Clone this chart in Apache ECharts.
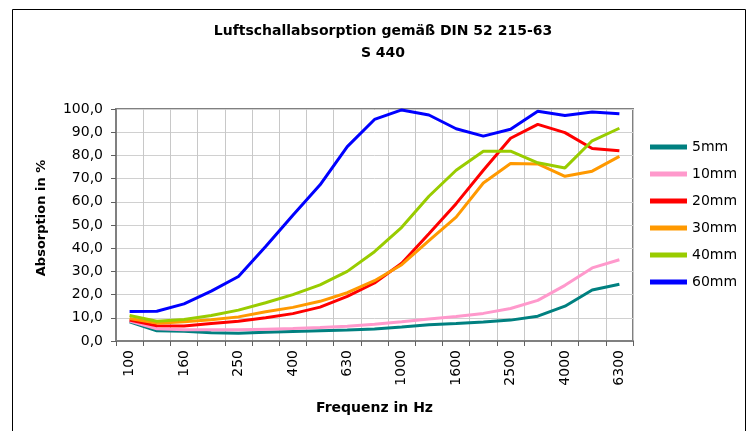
<!DOCTYPE html>
<html>
<head>
<meta charset="utf-8">
<script src="https://cdn.jsdelivr.net/npm/echarts@6/dist/echarts.min.js"></script>
<style>html,body{margin:0;padding:0;background:#fff;}#c{width:750px;height:431px;}</style>
</head>
<body>
<div id="c"></div>
<script>
var frequencies = ['100','125','160','200','250','315','400','500','630','800','1000','1250','1600','2000','2500','3150','4000','5000','6300'];
var s5mm  = [8.3, 4.4, 4.2, 3.6, 3.3, 3.8, 4.1, 4.4, 4.7, 5.2, 6.0, 7.0, 7.5, 8.2, 9.0, 10.7, 15.0, 22.0, 24.5];
var s10mm = [8.6, 5.3, 4.9, 4.8, 4.8, 5.1, 5.4, 5.8, 6.4, 7.2, 8.3, 9.5, 10.6, 11.9, 14.0, 17.5, 24.0, 31.5, 35.0];
var s20mm = [9.0, 6.6, 6.5, 7.5, 8.5, 10.0, 11.8, 14.6, 19.2, 25.0, 33.5, 46.2, 59.2, 73.6, 87.4, 93.4, 89.8, 83.0, 82.0];
var s30mm = [9.7, 7.7, 8.3, 9.2, 10.4, 12.6, 14.5, 17.1, 20.8, 26.0, 32.9, 43.3, 53.4, 68.1, 76.5, 76.3, 71.0, 73.2, 79.6];
var s40mm = [11.0, 8.5, 9.3, 11.0, 13.3, 16.5, 20.0, 24.2, 30.0, 38.5, 49.0, 62.4, 73.6, 81.8, 81.8, 76.8, 74.6, 86.3, 91.7];
var s60mm = [12.7, 12.8, 16.0, 21.5, 27.8, 40.7, 54.2, 67.3, 83.8, 95.5, 99.6, 97.4, 91.5, 88.3, 91.3, 99.0, 97.2, 98.7, 98.0];
var seriesNames = ['5mm','10mm','20mm','30mm','40mm','60mm'];
var seriesColors = ['#008080','#FF99CC','#FF0000','#FF9900','#99CC00','#0000FF'];
var seriesData = [s5mm, s10mm, s20mm, s30mm, s40mm, s60mm];
var yTicks = {min: 0, max: 100, interval: 10};

var FONT = 'DejaVu Sans';
var chart = echarts.init(document.getElementById('c'), null, {renderer: 'canvas'});
var option = {
  animation: false,
  backgroundColor: '#ffffff',
  textStyle: {fontFamily: FONT},
  title: {
    text: 'Luftschallabsorption gemäß DIN 52 215-63\nS 440',
    left: 378, textAlign: 'center', top: 15,
    textStyle: {fontFamily: FONT, fontSize: 14, fontWeight: 'bold', color: '#000', lineHeight: 22}
  },
  grid: {left: 116, right: 117, top: 109, bottom: 90, show: true, borderColor: '#808080', borderWidth: 2, backgroundColor: 'transparent'},
  legend: {
    orient: 'vertical', left: 645, top: 135,
    itemWidth: 37, itemHeight: 5, itemGap: 13, icon: 'rect',
    textStyle: {fontFamily: FONT, fontSize: 14, color: '#000'},
    data: seriesNames
  },
  xAxis: {
    type: 'category', data: frequencies, boundaryGap: true,
    name: 'Frequenz in Hz', nameLocation: 'middle', nameGap: 60,
    nameTextStyle: {fontFamily: FONT, fontSize: 14, fontWeight: 'bold', color: '#000'},
    axisLine: {lineStyle: {color: '#808080', width: 2}},
    axisTick: {show: true, interval: 0, length: 5, lineStyle: {color: '#606060', width: 1}},
    axisLabel: {interval: 1, rotate: 90, margin: 9, fontFamily: FONT, fontSize: 14, color: '#000'},
    splitLine: {show: true, interval: 0, lineStyle: {color: '#c8c8c8', width: 1}}
  },
  yAxis: {
    type: 'value', min: yTicks.min, max: yTicks.max, interval: yTicks.interval,
    axisLine: {show: true, lineStyle: {color: '#808080', width: 2}},
    axisTick: {show: true, length: 5, lineStyle: {color: '#606060', width: 1}},
    axisLabel: {margin: 13, fontFamily: FONT, fontSize: 14, color: '#000',
      formatter: function (v) { return v.toFixed(1).replace('.', ','); }},
    splitLine: {show: true, lineStyle: {color: '#d0d0d0', width: 1}}
  },
  graphic: [
    {type: 'rect', shape: {x: 12.5, y: 9.5, width: 733, height: 440}, style: {fill: 'none', stroke: '#000', lineWidth: 1}, z: -10, silent: true},
    {type: 'text', x: 42, y: 218, rotation: Math.PI / 2,
     style: {text: 'Absorption in %', font: 'bold 13px "DejaVu Sans"', fill: '#000', textAlign: 'center', textVerticalAlign: 'middle'}}
  ],
  series: seriesNames.map(function (n, i) {
    return {name: n, type: 'line', data: seriesData[i], symbol: 'none', smooth: false,
      itemStyle: {color: seriesColors[i]}, lineStyle: {color: seriesColors[i], width: 3}};
  })
};
chart.setOption(option);
</script>
</body>
</html>
